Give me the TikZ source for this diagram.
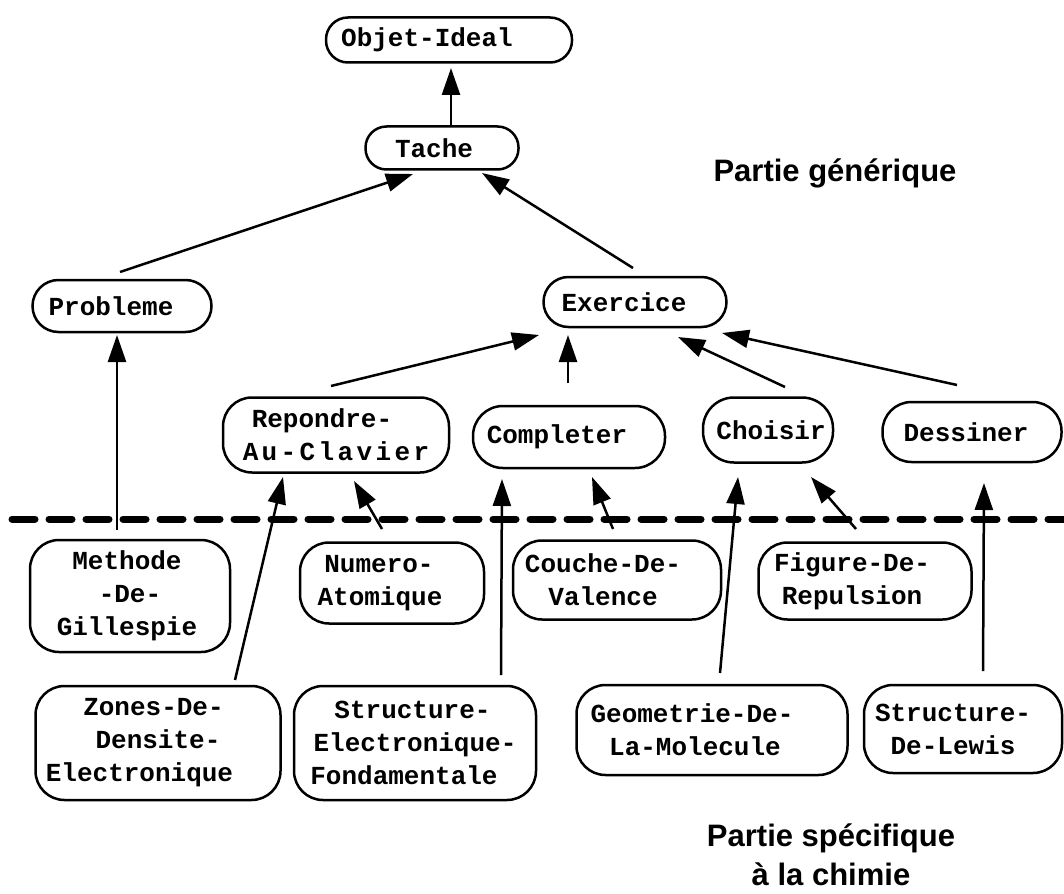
\documentclass[tikz,border=0pt]{standalone}
\usepackage{fontspec}
\setmainfont{Liberation Sans}
\newfontfamily\boxfont{Liberation Mono}
\usetikzlibrary{arrows.meta,calc}
% shift a centred line to the left by half the given amount
\newcommand\tl[1]{\hspace*{#1}}
\begin{document}
\begin{tikzpicture}[x=1pt,y=-1pt,
  box/.style={draw, line width=2.5pt, inner sep=0pt, outer sep=0pt, align=center,
    font=\boxfont\bfseries\fontsize{26}{33}\selectfont, rounded corners=29pt},
  arr/.style={line width=2.5pt, -{Triangle[length=27pt,width=18pt]}},
  lbl/.style={font=\bfseries\fontsize{31}{39}\selectfont, align=center, inner sep=0pt},
  sep/.style={line width=7pt, line cap=round, dash pattern=on 23pt off 14pt}
]
\useasboundingbox (0,0) rectangle (1064,893);

% top nodes
\node[box, minimum width=246pt, minimum height=45pt, rounded corners=22pt] (objet) at (449,40) {Objet-Ideal\tl{44pt}};
\node[box, minimum width=153pt, minimum height=43pt, rounded corners=21pt] (tache) at (442,148) {Tache\tl{16pt}};
\node[box, minimum width=179pt, minimum height=52pt, rounded corners=26pt] (probleme) at (122,306) {Probleme\tl{22pt}};
\node[box, minimum width=183pt, minimum height=50pt, rounded corners=25pt] (exercice) at (635,302) {Exercice\tl{22pt}};

% second level
\node[box, minimum width=226pt, minimum height=75pt] (repondre) at (336,435) {Repondre-\tl{28pt}\\{\addfontfeature{LetterSpace=13}Au-Clavier}};
\node[box, minimum width=192pt, minimum height=62pt, rounded corners=30pt] (completer) at (569,437) {Completer\tl{24pt}};
\node[box, minimum width=130pt, minimum height=65pt, rounded corners=31pt] (choisir) at (768,430) {\tl{6pt}Choisir};
\node[box, minimum width=179pt, minimum height=60pt, rounded corners=29pt] (dessiner) at (972,432) {Dessiner\tl{12pt}};

% separator
\draw[sep] (12,519) -- (1064,519);

% specific part, row 1
\node[box, minimum width=200pt, minimum height=112pt] (methode) at (130,596) {Methode\tl{6pt}\\-De-\tl{6pt}\\Gillespie\tl{6pt}};
\node[box, minimum width=184pt, minimum height=81pt] (numero) at (392,583) {Numero-\tl{26pt}\\Atomique\tl{24pt}};
\node[box, minimum width=208pt, minimum height=79pt] (couche) at (617,580) {Couche-De-\tl{28pt}\\Valence\tl{28pt}};
\node[box, minimum width=213pt, minimum height=77pt] (figure) at (865,581) {Figure-De-\tl{26pt}\\Repulsion\tl{26pt}};

% specific part, row 2
\node[box, minimum width=245pt, minimum height=114pt] (zones) at (158,743) {Zones-De-\tl{9pt}\\Densite-\tl{28pt}\\Electronique\tl{37pt}};
\node[box, minimum width=242pt, minimum height=114pt] (structelec) at (415,743) {Structure-\tl{5pt}\\Electronique-\tl{20pt}\\Fondamentale\tl{22pt}};
\node[box, minimum width=271pt, minimum height=90pt] (geometrie) at (712,730) {Geometrie-De-\tl{40pt}\\La-Molecule\tl{34pt}};
\node[box, minimum width=198pt, minimum height=88pt] (lewis) at (963,729) {Structure-\tl{20pt}\\De-Lewis\tl{20pt}};

% labels
\node[lbl, anchor=base] (generique) at (835,182) {Partie générique};
\node[lbl, anchor=base] (specifique) at (831,885) {Partie spécifique\\à la chimie};

% arrows
\draw[arr] ([xshift=9pt]tache.north) -- ([xshift=2pt,yshift=-5.5pt]objet.south);
\draw[arr] ([xshift=-2pt,yshift=8pt]probleme.north) -- ([xshift=-29pt,yshift=-4.5pt]tache.south);
\draw[arr] ([xshift=-2pt,yshift=9pt]exercice.north) -- ([xshift=40pt,yshift=-3.5pt]tache.south);
\draw[arr] ([xshift=-5pt,yshift=11.5pt]repondre.north) -- ([xshift=-96pt,yshift=-8pt]exercice.south);
\draw[arr] ([xshift=-1pt,yshift=23pt]completer.north) -- ([xshift=-67pt,yshift=-8pt]exercice.south);
\draw[arr] ([xshift=17pt,yshift=10.5pt]choisir.north) -- ([xshift=43pt,yshift=-10pt]exercice.south);
\draw[arr] ([xshift=-15pt,yshift=17pt]dessiner.north) -- ([xshift=87pt,yshift=-6pt]exercice.south);
\draw[arr] ([xshift=-13pt,yshift=10pt]methode.north) -- ([xshift=-5pt,yshift=-3pt]probleme.south);
\draw[arr] ([xshift=77pt,yshift=6pt]zones.north) -- ([xshift=-53pt,yshift=-4.5pt]repondre.south);
\draw[arr] ([xshift=-10pt,yshift=13.5pt]numero.north) -- ([xshift=18pt,yshift=-8.5pt]repondre.south);
\draw[arr] ([xshift=86pt,yshift=11pt]structelec.north) -- ([xshift=-67pt,yshift=-11pt]completer.south);
\draw[arr] ([xshift=-4pt,yshift=11.5pt]couche.north) -- ([xshift=23pt,yshift=-9pt]completer.south);
\draw[arr] ([xshift=8pt,yshift=12pt]geometrie.north) -- ([xshift=-30pt,yshift=-14.5pt]choisir.south);
\draw[arr] ([xshift=-9pt,yshift=13.5pt]figure.north) -- ([xshift=43pt,yshift=-14.5pt]choisir.south);
\draw[arr] ([xshift=20pt,yshift=14pt]lewis.north) -- ([xshift=12pt,yshift=-21pt]dessiner.south);
\end{tikzpicture}
\end{document}
